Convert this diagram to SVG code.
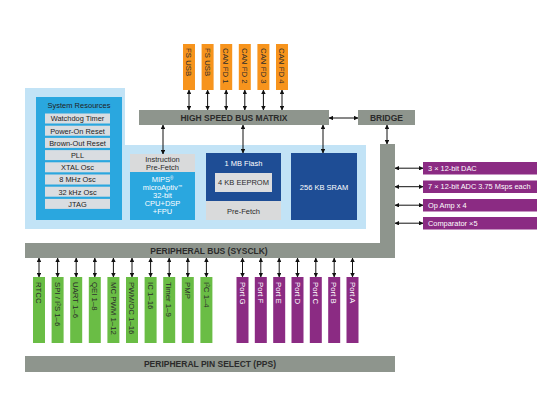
<svg xmlns="http://www.w3.org/2000/svg" width="560" height="400" viewBox="0 0 560 400">
<defs>
<marker id="ah" viewBox="0 0 10 10" refX="9" refY="5" markerWidth="4.5" markerHeight="4.5" orient="auto-start-reverse" markerUnits="userSpaceOnUse">
<path d="M0,0 L10,5 L0,10 Z" fill="#111"/>
</marker>
<style>
text{font-family:"Liberation Sans",Arial,sans-serif;}
.bar{fill:#8e958d;}
.bt{font-size:8.5px;font-weight:bold;fill:#2b2b2b;text-anchor:middle;}
.or{fill:#f7941d;}
.gr{fill:#6abd45;}
.pu{fill:#8b2b83;}
.vt{font-size:7.8px;fill:#2b2b2b;}
.vw{font-size:7.8px;fill:#ffffff;}
.row{fill:#d9dde1;}
.rt{font-size:7.4px;fill:#222;text-anchor:middle;}
.wt{font-size:7.5px;fill:#ffffff;text-anchor:middle;}
.dt{font-size:7.5px;fill:#2b2b2b;text-anchor:middle;}
.pt{font-size:7.4px;fill:#ffffff;}
.ar{stroke:#111;stroke-width:1;fill:none;marker-start:url(#ah);marker-end:url(#ah);}
</style>
</defs>

<g id="core-panel">
<path d="M25,88 H125 V145 H366 V229 H25 Z" fill="#c2e3f6"/>
</g>

<g id="system-resources">
<rect x="36" y="97" width="86" height="123" fill="#2aa7df"/>
<text x="79" y="107.5" class="rt" style="font-size:7.5px">System Resources</text>
<rect class="row" x="45" y="113.5" width="65" height="10"/><text class="rt" x="77.5" y="121.3">Watchdog Timer</text>
<rect class="row" x="45" y="125.7" width="65" height="10"/><text class="rt" x="77.5" y="133.5">Power-On Reset</text>
<rect class="row" x="45" y="137.9" width="65" height="10"/><text class="rt" x="77.5" y="145.7">Brown-Out Reset</text>
<rect class="row" x="45" y="150.1" width="65" height="10"/><text class="rt" x="77.5" y="157.9">PLL</text>
<rect class="row" x="45" y="162.3" width="65" height="10"/><text class="rt" x="77.5" y="170.1">XTAL Osc</text>
<rect class="row" x="45" y="174.5" width="65" height="10"/><text class="rt" x="77.5" y="182.3">8 MHz Osc</text>
<rect class="row" x="45" y="186.7" width="65" height="10"/><text class="rt" x="77.5" y="194.5">32 kHz Osc</text>
<rect class="row" x="45" y="198.9" width="65" height="10"/><text class="rt" x="77.5" y="206.7">JTAG</text>
</g>

<g id="cpu">
<rect x="130" y="154" width="65" height="18" fill="#d9dadb"/>
<text class="dt" x="162.5" y="161.5">Instruction</text>
<text class="dt" x="162.5" y="169.5">Pre-Fetch</text>
<rect x="130" y="172" width="65" height="48" fill="#2aa7df"/>
<text class="wt" x="162.5" y="182">MIPS<tspan font-size="4.5" dy="-2.5">®</tspan></text>
<text class="wt" x="162.5" y="190">microAptiv<tspan font-size="4.5" dy="-2.5">™</tspan></text>
<text class="wt" x="162.5" y="198">32-bit</text>
<text class="wt" x="162.5" y="206">CPU+DSP</text>
<text class="wt" x="162.5" y="214">+FPU</text>
</g>

<g id="flash">
<rect x="206" y="153" width="75" height="48" fill="#1e4d95"/>
<text class="wt" x="243.5" y="166">1 MB Flash</text>
<rect x="215" y="173" width="57" height="19" fill="#dcdddf"/>
<text class="dt" x="243.5" y="185">4 KB EEPROM</text>
<rect x="206" y="201" width="75" height="19" fill="#d9dadb"/>
<text class="dt" x="243.5" y="213.5">Pre-Fetch</text>
</g>

<g id="sram">
<rect x="291" y="153" width="66" height="67" fill="#1e4d95"/>
<text class="wt" x="324" y="189.5">256 KB SRAM</text>
</g>

<g id="hsbm">
<rect class="bar" x="139" y="110" width="190" height="15"/>
<text class="bt" x="234" y="120.8">HIGH SPEED BUS MATRIX</text>
</g>

<g id="bridge">
<rect class="bar" x="358" y="110" width="57" height="15"/>
<text class="bt" x="386.5" y="120.8">BRIDGE</text>
</g>

<g id="peripheral-bus">
<path class="bar" d="M380,144 H395 V258 H25 V243 H380 Z"/>
<text class="bt" x="209" y="253.5">PERIPHERAL BUS (SYSCLK)</text>
</g>

<g id="pps">
<rect class="bar" x="25" y="356" width="370" height="16"/>
<text class="bt" x="210" y="367">PERIPHERAL PIN SELECT (PPS)</text>
</g>

<g id="top-peripherals">
<rect class="or" x="183" y="44" width="12" height="46"/><text class="vt" transform="translate(189,48) rotate(90)" dy="0.35em">FS USB</text>
<rect class="or" x="201.6" y="44" width="12" height="46"/><text class="vt" transform="translate(207.6,48) rotate(90)" dy="0.35em">FS USB</text>
<rect class="or" x="220.2" y="44" width="12" height="46"/><text class="vt" transform="translate(226.2,48) rotate(90)" dy="0.35em">CAN FD 1</text>
<rect class="or" x="238.8" y="44" width="12" height="46"/><text class="vt" transform="translate(244.8,48) rotate(90)" dy="0.35em">CAN FD 2</text>
<rect class="or" x="257.4" y="44" width="12" height="46"/><text class="vt" transform="translate(263.4,48) rotate(90)" dy="0.35em">CAN FD 3</text>
<rect class="or" x="276" y="44" width="12" height="46"/><text class="vt" transform="translate(282,48) rotate(90)" dy="0.35em">CAN FD 4</text>
</g>

<g id="analog">
<rect class="pu" x="423" y="162" width="114" height="12.5"/><text class="pt" x="428" y="170.8">3 × 12-bit DAC</text>
<rect class="pu" x="423" y="180.5" width="114" height="12.5"/><text class="pt" x="428" y="189.3">7 × 12-bit ADC 3.75 Msps each</text>
<rect class="pu" x="423" y="199" width="114" height="12.5"/><text class="pt" x="428" y="207.8">Op Amp x 4</text>
<rect class="pu" x="423" y="217" width="114" height="12.5"/><text class="pt" x="428" y="225.8">Comparator ×5</text>
</g>

<g id="digital-peripherals">
<rect class="gr" x="33" y="277" width="12" height="66"/><text class="vt" transform="translate(39,282) rotate(90)" dy="0.35em">RTCC</text>
<rect class="gr" x="51.6" y="277" width="12" height="66"/><text class="vt" transform="translate(57.6,282) rotate(90)" dy="0.35em">SPI / I<tspan font-size="4.8" dy="-2">2</tspan><tspan dy="2">S 1–6</tspan></text>
<rect class="gr" x="70.2" y="277" width="12" height="66"/><text class="vt" transform="translate(76.2,282) rotate(90)" dy="0.35em">UART 1–6</text>
<rect class="gr" x="88.8" y="277" width="12" height="66"/><text class="vt" transform="translate(94.8,282) rotate(90)" dy="0.35em">QEI 1–8</text>
<rect class="gr" x="107.4" y="277" width="12" height="66"/><text class="vt" transform="translate(113.4,282) rotate(90)" dy="0.35em">MC PWM 1–12</text>
<rect class="gr" x="126" y="277" width="12" height="66"/><text class="vt" transform="translate(132,282) rotate(90)" dy="0.35em">PWM/OC  1–16</text>
<rect class="gr" x="144.6" y="277" width="12" height="66"/><text class="vt" transform="translate(150.6,282) rotate(90)" dy="0.35em">IC 1–16</text>
<rect class="gr" x="163.2" y="277" width="12" height="66"/><text class="vt" transform="translate(169.2,282) rotate(90)" dy="0.35em">Timer 1–9</text>
<rect class="gr" x="181.8" y="277" width="12" height="66"/><text class="vt" transform="translate(187.8,282) rotate(90)" dy="0.35em">PMP</text>
<rect class="gr" x="200.4" y="277" width="12" height="66"/><text class="vt" transform="translate(206.4,282) rotate(90)" dy="0.35em">I<tspan font-size="4.8" dy="-2">2</tspan><tspan dy="2">C 1–4</tspan></text>
</g>

<g id="ports">
<rect class="pu" x="236.5" y="277" width="12" height="66"/><text class="vw" transform="translate(242.5,282) rotate(90)" dy="0.35em">Port G</text>
<rect class="pu" x="254.8" y="277" width="12" height="66"/><text class="vw" transform="translate(260.8,282) rotate(90)" dy="0.35em">Port F</text>
<rect class="pu" x="273.2" y="277" width="12" height="66"/><text class="vw" transform="translate(279.2,282) rotate(90)" dy="0.35em">Port E</text>
<rect class="pu" x="291.5" y="277" width="12" height="66"/><text class="vw" transform="translate(297.5,282) rotate(90)" dy="0.35em">Port D</text>
<rect class="pu" x="309.8" y="277" width="12" height="66"/><text class="vw" transform="translate(315.8,282) rotate(90)" dy="0.35em">Port C</text>
<rect class="pu" x="328.2" y="277" width="12" height="66"/><text class="vw" transform="translate(334.2,282) rotate(90)" dy="0.35em">Port B</text>
<rect class="pu" x="346.5" y="277" width="12" height="66"/><text class="vw" transform="translate(352.5,282) rotate(90)" dy="0.35em">Port A</text>
</g>

<g id="connectors">
<line class="ar" x1="189" y1="90" x2="189" y2="110"/>
<line class="ar" x1="207.6" y1="90" x2="207.6" y2="110"/>
<line class="ar" x1="226.2" y1="90" x2="226.2" y2="110"/>
<line class="ar" x1="244.8" y1="90" x2="244.8" y2="110"/>
<line class="ar" x1="263.4" y1="90" x2="263.4" y2="110"/>
<line class="ar" x1="282" y1="90" x2="282" y2="110"/>
<line class="ar" x1="163" y1="125" x2="163" y2="154"/>
<line class="ar" x1="243" y1="125" x2="243" y2="153"/>
<line class="ar" x1="323" y1="125" x2="323" y2="153"/>
<line class="ar" x1="329" y1="118" x2="358" y2="118"/>
<line class="ar" x1="387" y1="125" x2="387" y2="144"/>
<line class="ar" x1="395" y1="168.2" x2="423" y2="168.2"/>
<line class="ar" x1="395" y1="186.7" x2="423" y2="186.7"/>
<line class="ar" x1="395" y1="205.2" x2="423" y2="205.2"/>
<line class="ar" x1="395" y1="223.2" x2="423" y2="223.2"/>
<line class="ar" x1="39" y1="258" x2="39" y2="277"/>
<line class="ar" x1="57.6" y1="258" x2="57.6" y2="277"/>
<line class="ar" x1="76.2" y1="258" x2="76.2" y2="277"/>
<line class="ar" x1="94.8" y1="258" x2="94.8" y2="277"/>
<line class="ar" x1="113.4" y1="258" x2="113.4" y2="277"/>
<line class="ar" x1="132" y1="258" x2="132" y2="277"/>
<line class="ar" x1="150.6" y1="258" x2="150.6" y2="277"/>
<line class="ar" x1="169.2" y1="258" x2="169.2" y2="277"/>
<line class="ar" x1="187.8" y1="258" x2="187.8" y2="277"/>
<line class="ar" x1="206.4" y1="258" x2="206.4" y2="277"/>
<line class="ar" x1="242.5" y1="258" x2="242.5" y2="277"/>
<line class="ar" x1="260.8" y1="258" x2="260.8" y2="277"/>
<line class="ar" x1="279.2" y1="258" x2="279.2" y2="277"/>
<line class="ar" x1="297.5" y1="258" x2="297.5" y2="277"/>
<line class="ar" x1="315.8" y1="258" x2="315.8" y2="277"/>
<line class="ar" x1="334.2" y1="258" x2="334.2" y2="277"/>
<line class="ar" x1="352.5" y1="258" x2="352.5" y2="277"/>
</g>
</svg>
